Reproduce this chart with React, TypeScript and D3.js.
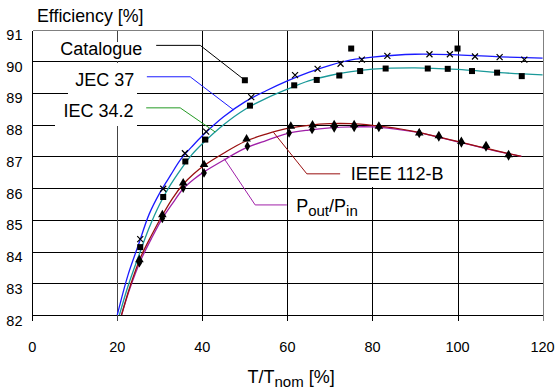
import React from 'react';
import * as d3 from 'd3';

const X_TICKS = [0, 20, 40, 60, 80, 100, 120];
const Y_TICKS = [82, 83, 84, 85, 86, 87, 88, 89, 90, 91];

// Model curves [T/Tnom %, efficiency %]
const JEC37_CURVE: [number, number][] = [
  [20, 82], [22.5, 83.25], [25, 84.22], [27.5, 85.18], [30, 85.85], [32.5, 86.4], [35, 86.92],
  [37.5, 87.3], [40, 87.65], [45, 88.25], [50, 88.72], [55, 89.07], [60, 89.38], [65, 89.65],
  [70, 89.87], [75, 90.04], [80, 90.13], [90, 90.22], [100, 90.2], [110, 90.14], [120, 90.1],
];
const IEC342_CURVE: [number, number][] = [
  [20.5, 82], [22.5, 82.9], [25, 83.85], [27.5, 84.75], [30, 85.5], [32.5, 86.1], [35, 86.6],
  [37.5, 87.05], [40, 87.4], [45, 88.0], [50, 88.48], [55, 88.83], [60, 89.12], [65, 89.38],
  [70, 89.55], [75, 89.67], [80, 89.75], [90, 89.79], [100, 89.74], [110, 89.64], [120, 89.57],
];
const IEEE112B_CURVE: [number, number][] = [
  [21, 82], [23, 82.9], [25.5, 83.82], [28, 84.5], [30.5, 85.12], [33, 85.68], [35.5, 86.12],
  [38, 86.45], [40.5, 86.72], [45, 87.1], [50, 87.47], [55, 87.7], [60, 87.88], [65, 87.98],
  [70, 88.03], [75, 88.03], [80, 87.98], [85, 87.9], [90, 87.78], [95, 87.63], [100, 87.47],
  [105, 87.31], [110, 87.15], [115, 87.0],
];
const POUT_PIN_CURVE: [number, number][] = [
  [21, 82], [23, 82.85], [25.5, 83.72], [28, 84.4], [30.5, 85.02], [33, 85.52], [35.5, 85.98],
  [38, 86.28], [40.5, 86.52], [45, 86.88], [50, 87.25], [55, 87.5], [60, 87.72], [65, 87.83],
  [70, 87.9], [75, 87.93], [80, 87.93], [85, 87.87], [90, 87.77], [95, 87.62], [100, 87.46],
  [105, 87.3], [110, 87.14], [115, 87.0],
];

// Measured points
const JEC37_POINTS: [number, number][] = [
  [25.4, 84.39], [30.8, 85.98], [35.9, 87.1], [40.9, 87.78], [51.5, 88.87], [61.8, 89.56],
  [67.1, 89.76], [72.5, 89.92], [77.5, 90.05], [83.5, 90.17], [93.4, 90.22], [98.2, 90.22],
  [104.1, 90.15], [109.9, 90.13], [115.7, 90.05],
];
const IEC342_POINTS: [number, number][] = [
  [25.4, 84.14], [30.8, 85.72], [36.0, 86.84], [40.7, 87.53], [51.2, 88.6], [61.6, 89.24],
  [66.9, 89.41], [72.2, 89.55], [77.1, 89.69], [83.1, 89.77], [93.0, 89.77], [97.7, 89.76],
  [103.4, 89.69], [109.3, 89.64], [115.1, 89.53],
];
const CATALOGUE_POINTS: [number, number][] = [[50, 89.4], [75, 90.4], [100, 90.4]];
const IEEE112B_POINTS: [number, number][] = [
  [25.2, 83.74], [30.6, 85.16], [35.5, 86.16], [40.4, 86.74], [50.4, 87.55], [60.8, 87.95],
  [65.9, 87.99], [71.0, 88.0], [75.7, 88.0], [81.5, 87.95], [91.0, 87.74], [95.6, 87.65],
  [100.9, 87.47], [106.7, 87.34], [112.0, 87.05],
];
const POUT_PIN_POINTS: [number, number][] = [
  [25.2, 83.65], [30.6, 85.05], [35.5, 86.0], [40.4, 86.48], [50.6, 87.32], [60.4, 87.74],
  [65.8, 87.85], [71.0, 87.9], [75.7, 87.92], [81.5, 87.92], [91.0, 87.73], [95.6, 87.62],
  [100.9, 87.43], [106.7, 87.3], [112.0, 87.02],
];

// Callout leader lines (data coordinates)
const CATALOGUE_LEADER: [number, number][] = [[29.15, 90.5], [39.5, 90.5], [50, 89.4]];
const JEC37_LEADER: [number, number][] = [[26.96, 89.51], [37.14, 89.51], [47.3, 88.47]];
const IEC342_LEADER: [number, number][] = [[26.8, 88.53], [34.79, 88.53], [43.02, 87.77]];
const IEEE112B_LEADER: [number, number][] = [[72.4, 86.45], [64.57, 86.45], [56.72, 87.76]];
const POUT_PIN_LEADER: [number, number][] = [[45.13, 86.93], [52.42, 85.47], [59.87, 85.47]];

const FONT = '"Liberation Sans", Arial, Helvetica, sans-serif';

const W = 557;
const H = 389;

export default function App() {
  const x = d3.scaleLinear().domain([0, 120]).range([32.2, 542.6]);
  const y = d3.scaleLinear().domain([82, 91]).range([315, 29.5]);
  const left = x(0);
  const right = x(120);
  const top = y(91);
  const bottom = y(82);
  const px = (v: number) => Math.round(v) + 0.5;

  const curve = d3
    .line<[number, number]>()
    .x((d) => x(d[0]))
    .y((d) => y(d[1]))
    .curve(d3.curveCatmullRom.alpha(0.5));
  const poly = d3
    .line<[number, number]>()
    .x((d) => x(d[0]))
    .y((d) => y(d[1]));

  const tri = d3.symbol().type(d3.symbolTriangle).size(32)() as string;
  const dia = d3.symbol().type(d3.symbolDiamond).size(28)() as string;

  const labelBoxes = [
    { x0: 55, x1: 149, y0: 42, y1: 61 },
    { x0: 68, x1: 137, y0: 63, y1: 101 },
    { x0: 55, x1: 137, y0: 101, y1: 126 },
    { x0: 345, x1: 452, y0: 158, y1: 187 },
    { x0: 291, x1: 366, y0: 190, y1: 219 },
  ];

  return (
    <div style={{ position: 'absolute', left: 0, top: 0 }}>
      <svg width={W} height={H} style={{ display: 'block', background: '#fff' }} fontFamily={FONT}>
        <rect x={0} y={0} width={W} height={H} fill="#fff" />
        {/* grid */}
        <g shapeRendering="crispEdges">
          {Y_TICKS.map((t) => (
            <line key={'h' + t} x1={px(left)} x2={px(right)} y1={px(y(t))} y2={px(y(t))}
              stroke={t === 91 ? '#808080' : '#000'} strokeWidth={1} />
          ))}
          {X_TICKS.map((t) => (
            <line key={'v' + t} x1={px(x(t))} x2={px(x(t))} y1={px(top)} y2={px(bottom) + (t === 0 ? 0 : 5)}
              stroke={t === 120 ? '#808080' : t === 20 ? '#444' : '#000'} strokeWidth={1} />
          ))}
          <line x1={px(left)} x2={px(left)} y1={px(top)} y2={px(bottom) + 5} stroke="#000" strokeWidth={1} />
        </g>
        {/* label backgrounds */}
        {labelBoxes.map((b, i) => (
          <rect key={'b' + i} x={b.x0} y={b.y0} width={b.x1 - b.x0} height={b.y1 - b.y0} fill="#fff" />
        ))}
        {/* curves */}
        <path d={curve(JEC37_CURVE) || ''} fill="none" stroke="#1a1aff" strokeWidth={1.3} />
        <path d={curve(IEC342_CURVE) || ''} fill="none" stroke="#1a9999" strokeWidth={1.3} />
        <path d={curve(POUT_PIN_CURVE) || ''} fill="none" stroke="#a020a8" strokeWidth={1.3} />
        <path d={curve(IEEE112B_CURVE) || ''} fill="none" stroke="#990f0f" strokeWidth={1.3} />
        {/* leader lines */}
        <path d={poly(CATALOGUE_LEADER) || ''} fill="none" stroke="#000" strokeWidth={1} />
        <path d={poly(JEC37_LEADER) || ''} fill="none" stroke="#1a1aff" strokeWidth={1} />
        <path d={poly(IEC342_LEADER) || ''} fill="none" stroke="#249a24" strokeWidth={1} />
        <path d={poly(IEEE112B_LEADER) || ''} fill="none" stroke="#990f0f" strokeWidth={1} />
        <path d={poly(POUT_PIN_LEADER) || ''} fill="none" stroke="#a020a8" strokeWidth={1} />
        {/* markers */}
        {JEC37_POINTS.map((d, i) => (
          <path key={'j' + i} transform={`translate(${x(d[0])},${y(d[1])})`}
            d="M-3,-3L3,3M-3,3L3,-3" stroke="#000" strokeWidth={1.2} fill="none" />
        ))}
        {IEC342_POINTS.map((d, i) => (
          <rect key={'s' + i} x={x(d[0]) - 3} y={y(d[1]) - 3} width={6} height={6} fill="#000" />
        ))}
        {CATALOGUE_POINTS.map((d, i) => (
          <rect key={'c' + i} x={x(d[0]) - 3} y={y(d[1]) - 3} width={6} height={6} fill="#000" />
        ))}
        {POUT_PIN_POINTS.map((d, i) => (
          <path key={'p' + i} transform={`translate(${x(d[0])},${y(d[1])})`} d={dia} fill="#000" />
        ))}
        {IEEE112B_POINTS.map((d, i) => (
          <path key={'t' + i} transform={`translate(${x(d[0])},${y(d[1])})`} d={tri} fill="#000" />
        ))}
        {/* labels */}
        <g fontSize={18} fill="#000">
          <text x={x(6.58)} y={y(90.21)}>Catalogue</text>
          <text x={x(10.1)} y={y(89.21)}>JEC 37</text>
          <text x={x(7.36)} y={y(88.24)}>IEC 34.2</text>
          <text x={x(74.9)} y={y(86.24)}>IEEE 112-B</text>
          <text x={x(62.06)} y={y(85.26)}>
            P<tspan fontSize={15} dy={4}>out</tspan>
            <tspan dy={-4}>/P</tspan>
            <tspan fontSize={15} dy={4}>in</tspan>
          </text>
        </g>
        {/* axes text */}
        <g fontSize={14.5} fill="#000">
          {Y_TICKS.map((t) => (
            <text key={'yl' + t} x={22.5} y={y(t) + 10.5} textAnchor="end">{t}</text>
          ))}
          {X_TICKS.map((t) => (
            <text key={'xl' + t} x={x(t)} y={351.7} textAnchor="middle">{t}</text>
          ))}
        </g>
        <text x={37} y={21.7} fontSize={17.8}>Efficiency [%]</text>
        <text x={247.5} y={383} fontSize={18}>
          T/T<tspan fontSize={15} dy={4}>nom</tspan>
          <tspan dy={-4}> [%]</tspan>
        </text>
      </svg>
    </div>
  );
}
